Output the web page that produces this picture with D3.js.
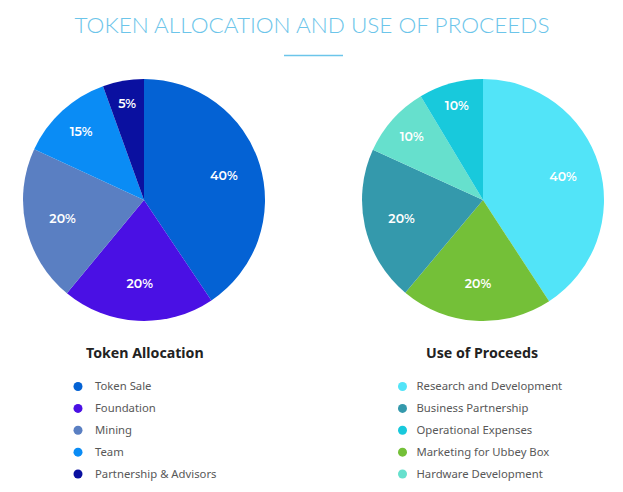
<!DOCTYPE html>
<html><head><meta charset="utf-8">
<script src="https://cdn.jsdelivr.net/npm/d3@7/dist/d3.min.js"></script>
<style>html,body{margin:0;padding:0;background:#fff;}svg{display:block;}</style>
</head><body>
<svg id="chart" width="623" height="492"></svg>
<script>
const chartTitle = "TOKEN ALLOCATION AND USE OF PROCEEDS";

const allocTitle = "Token Allocation";
const allocPieOrder = ["Token Sale", "Foundation", "Mining", "Team", "Partnership & Advisors"];
const allocLabels = ["40%", "20%", "20%", "15%", "5%"];
// slice sizes as drawn in the picture (share of the circle, %)
const allocValues = [40.6, 20.4, 20.9, 12.6, 5.5];
const allocColors = ["#0462d4", "#4a10e4", "#5a7fc2", "#0a8cf5", "#0a10a0"];
const allocLegend = ["Token Sale", "Foundation", "Mining", "Team", "Partnership & Advisors"];

const procTitle = "Use of Proceeds";
const procPieOrder = ["Research and Development", "Marketing for Ubbey Box", "Business Partnership", "Hardware Development", "Operational Expenses"];
const procLabels = ["40%", "20%", "20%", "10%", "10%"];
const procValues = [40.8, 20.3, 20.7, 9.6, 8.6];
const procColors = ["#52e4f8", "#74c038", "#3499ac", "#66e0cd", "#18c9dc"];
const procLegend = ["Research and Development", "Business Partnership", "Operational Expenses", "Marketing for Ubbey Box", "Hardware Development"];

const svg = d3.select("#chart");
const titleColor = "#6cc5ea";

svg.append("text")
  .attr("x", 312).attr("y", 32.5)
  .attr("text-anchor", "middle")
  .attr("font-family", "Lato, 'Open Sans', sans-serif")
  .attr("font-weight", 300)
  .attr("font-size", 22)
  .attr("textLength", 475)
  .attr("lengthAdjust", "spacingAndGlyphs")
  .attr("fill", titleColor)
  .text(chartTitle);

svg.append("line")
  .attr("x1", 284).attr("x2", 343).attr("y1", 55.5).attr("y2", 55.5)
  .attr("stroke", titleColor).attr("stroke-width", 1.5);

function drawPie(cx, cy, R, names, values, labels, colors) {
  const colorScale = d3.scaleOrdinal().domain(names).range(colors);
  const pie = d3.pie().sort(null).value(d => d.v);
  const arcs = pie(names.map((n, i) => ({ n, v: values[i], l: labels[i] })));
  const arc = d3.arc().innerRadius(0).outerRadius(R);
  const g = svg.append("g").attr("transform", `translate(${cx},${cy})`);
  g.selectAll("path").data(arcs).join("path")
    .attr("d", arc)
    .attr("fill", d => colorScale(d.data.n));
  g.selectAll("text").data(arcs).join("text")
    .attr("transform", d => {
      const v = d.data.v;
      const frac = v >= 18 ? 0.69 : v >= 12 ? 0.77 : v >= 9 ? 0.79 : 0.81;
      const la = d3.arc().innerRadius(R * frac).outerRadius(R * frac);
      const [x, y] = la.centroid(d);
      return `translate(${x},${y})`;
    })
    .attr("text-anchor", "middle")
    .attr("dy", "0.36em")
    .attr("font-family", "Montserrat, 'Noto Sans', sans-serif")
    .attr("font-weight", 600)
    .attr("font-size", 12.5)
    .attr("fill", "#fff")
    .text(d => d.data.l);
  return colorScale;
}

const allocScale = drawPie(144, 200, 121, allocPieOrder, allocValues, allocLabels, allocColors);
const procScale = drawPie(483, 200, 121, procPieOrder, procValues, procLabels, procColors);

function drawLegend(titleX, title, dotX, textX, items, scale) {
  svg.append("text")
    .attr("x", titleX).attr("y", 357.5)
    .attr("font-family", "'Noto Sans', sans-serif")
    .attr("font-weight", 700)
    .attr("font-size", 14.2)
    .attr("fill", "#222")
    .text(title);
  const y = d3.scalePoint().domain(items).range([386.5, 474]);
  const g = svg.append("g");
  items.forEach(it => {
    g.append("circle").attr("cx", dotX).attr("cy", y(it)).attr("r", 4.5).attr("fill", scale(it));
    g.append("text").attr("x", textX).attr("y", y(it)).attr("dy", "0.35em")
      .attr("font-family", "'Noto Sans', sans-serif")
      .attr("font-size", 11.3)
      .attr("fill", "#585858")
      .text(it);
  });
}

drawLegend(86, allocTitle, 78, 95, allocLegend, allocScale);
drawLegend(426, procTitle, 402.5, 416.5, procLegend, procScale);
</script>
</body></html>
